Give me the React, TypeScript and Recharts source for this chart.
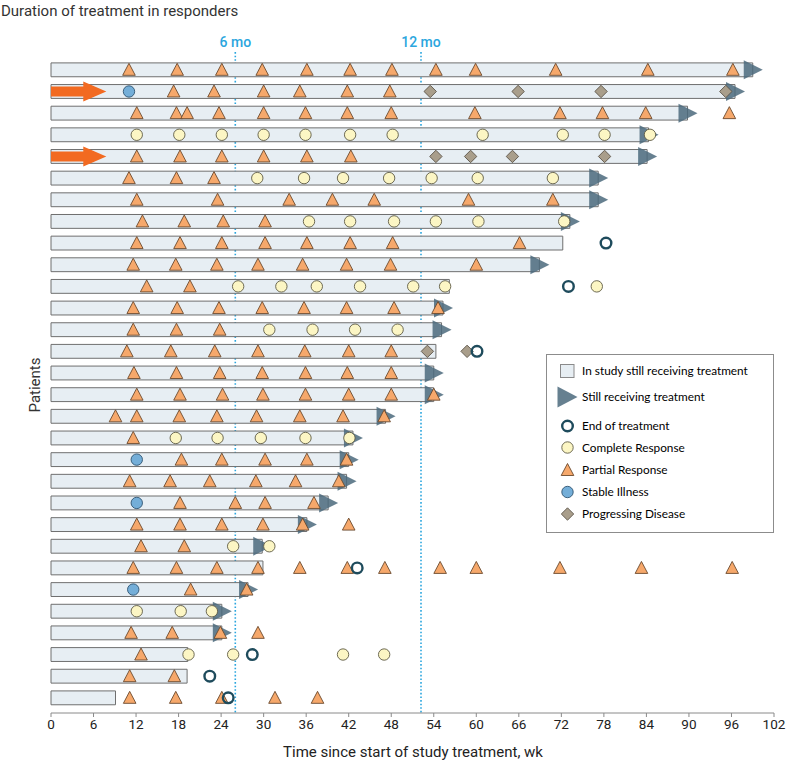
import React from 'react';
import { ComposedChart, XAxis, YAxis, Scatter, ReferenceArea, ReferenceLine } from 'recharts';

const weekTicks = [0, 6, 12, 18, 24, 30, 36, 42, 48, 54, 60, 66, 72, 78, 84, 90, 96, 102];

const patients = [1, 2, 3, 4, 5, 6, 7, 8, 9, 10, 11, 12, 13, 14, 15, 16, 17, 18, 19, 20, 21, 22, 23, 24, 25, 26, 27, 28, 29, 30];
const durations = [99.0, 96.5, 89.8, 84.3, 84.1, 77.2, 77.2, 73.2, 72.2, 68.9, 56.2, 55.3, 55.1, 54.3, 54.0, 54.0, 47.2, 42.6, 42.0, 41.7, 39.1, 36.1, 29.8, 29.9, 27.8, 24.1, 24.1, 19.3, 19.2, 9.1];
const stillReceiving = [true, true, true, true, true, true, true, true, false, true, false, true, true, false, true, true, true, true, true, true, true, true, true, false, true, true, true, false, false, false];

// [patient row, week]
const partialResponse: [number, number][] = [
  [1, 11.0], [1, 17.8], [1, 24.1], [1, 29.8], [1, 36.1], [1, 42.2], [1, 48.1], [1, 54.3], [1, 59.9], [1, 71.2], [1, 84.2], [1, 96.2],
  [2, 17.3], [2, 23.0], [2, 30.0], [2, 35.1], [2, 41.8], [2, 47.8],
  [3, 12.1], [3, 17.7], [3, 19.2], [3, 23.7], [3, 30.0], [3, 35.9], [3, 41.8], [3, 48.0], [3, 59.8], [3, 71.8], [3, 77.8], [3, 83.9], [3, 95.7],
  [5, 12.1], [5, 18.2], [5, 24.1], [5, 30.0], [5, 36.1], [5, 42.3],
  [6, 11.0], [6, 17.7], [6, 23.0],
  [7, 12.1], [7, 23.5], [7, 33.6], [7, 39.7], [7, 45.6], [7, 58.9], [7, 70.8],
  [8, 12.9], [8, 18.8], [8, 24.3], [8, 30.2],
  [9, 12.1], [9, 18.2], [9, 24.1], [9, 30.2], [9, 36.1], [9, 42.2], [9, 48.2], [9, 66.1],
  [10, 11.6], [10, 17.6], [10, 23.4], [10, 29.2], [10, 35.5], [10, 41.7], [10, 47.9], [10, 60.0],
  [11, 13.5], [11, 19.6],
  [12, 11.6], [12, 17.8], [12, 23.7], [12, 29.8], [12, 35.7], [12, 41.7], [12, 48.4], [12, 54.6],
  [13, 11.6], [13, 17.7], [13, 23.8],
  [14, 10.7], [14, 16.9], [14, 23.1], [14, 29.2], [14, 35.8], [14, 42.0], [14, 48.0],
  [15, 11.7], [15, 17.7], [15, 23.8], [15, 29.8], [15, 35.9], [15, 41.8], [15, 48.0],
  [16, 12.1], [16, 18.2], [16, 24.2], [16, 29.9], [16, 35.9], [16, 42.0], [16, 48.0], [16, 54.0],
  [17, 9.1], [17, 12.1], [17, 18.1], [17, 23.4], [17, 29.0], [17, 35.1], [17, 41.2], [17, 47.0],
  [18, 11.6],
  [19, 18.4], [19, 24.1], [19, 30.2], [19, 36.1], [19, 41.7],
  [20, 11.1], [20, 16.8], [20, 22.4], [20, 28.9], [20, 34.5], [20, 40.6],
  [21, 18.2], [21, 26.0], [21, 30.2], [21, 37.1],
  [22, 12.1], [22, 18.2], [22, 24.1], [22, 29.9], [22, 35.5], [22, 42.0],
  [23, 12.7], [23, 18.8],
  [24, 11.6], [24, 17.7], [24, 23.4], [24, 29.2], [24, 35.1], [24, 41.8], [24, 47.1], [24, 54.9], [24, 60.0], [24, 71.8], [24, 83.3], [24, 96.1],
  [25, 19.7], [25, 27.6],
  [27, 11.3], [27, 17.1], [27, 23.9], [27, 29.2],
  [28, 12.7],
  [29, 11.1], [29, 17.4],
  [30, 11.1], [30, 17.6], [30, 24.1], [30, 31.6], [30, 37.6],
];

const completeResponse: [number, number][] = [
  [4, 12.1], [4, 18.1], [4, 24.1], [4, 30.0], [4, 35.9], [4, 42.2], [4, 48.2], [4, 60.9], [4, 72.2], [4, 78.1], [4, 84.5],
  [6, 29.1], [6, 35.7], [6, 41.2], [6, 47.7], [6, 53.7], [6, 60.2], [6, 70.8],
  [8, 36.4], [8, 42.2], [8, 48.4], [8, 54.3], [8, 60.3], [8, 72.4],
  [11, 26.4], [11, 32.5], [11, 37.5], [11, 43.6], [11, 51.1], [11, 55.6], [11, 77.0],
  [13, 30.8], [13, 36.9], [13, 42.9], [13, 48.9],
  [18, 17.6], [18, 23.5], [18, 29.6], [18, 35.9], [18, 42.1],
  [23, 25.7], [23, 30.8],
  [26, 12.1], [26, 18.3], [26, 22.7],
  [28, 19.4], [28, 25.7], [28, 41.2], [28, 47.0],
];

const stableIllness: [number, number][] = [[2, 11.0], [19, 12.1], [21, 12.1], [25, 11.6]];

const progressingDisease: [number, number][] = [
  [2, 53.5], [2, 65.9], [2, 77.6], [2, 95.2],
  [5, 54.3], [5, 59.2], [5, 65.1], [5, 78.1],
  [14, 53.1], [14, 58.7],
];

const endOfTreatment: [number, number][] = [[9, 78.3], [11, 73.0], [14, 60.1], [24, 43.2], [28, 28.4], [29, 22.4], [30, 25.0]];

const highlighted: [number, number][] = [[2, 7.8], [5, 7.8]];

const milestoneWeeks = [26, 52.2];
const milestoneLabels = ['6 mo', '12 mo'];

const toPts = (arr: [number, number][]) => arr.map(([row, wk]) => ({ row, wk }));
const arrowPts = patients.filter((_, i) => stillReceiving[i]).map((p) => ({ row: p, wk: durations[p - 1] }));

const C = {
  bar: '#e7eef3',
  barStroke: '#6f6f6f',
  pr: '#f6a86b',
  prStroke: '#6b4a2e',
  cr: '#fcf6c4',
  crStroke: '#5f5b45',
  sd: '#74aed8',
  sdStroke: '#2f5470',
  pd: '#a99e8b',
  pdStroke: '#5b5448',
  eot: '#1e4b5c',
  arrow: '#4b6a7c',
  mile: '#2ba6de',
  pointer: '#f26a21',
};

const Tri = ({ cx, cy }: any) => (
  <path d={`M${cx},${cy - 6.5} L${cx + 6.3},${cy + 5.5} L${cx - 6.3},${cy + 5.5} Z`} fill={C.pr} stroke={C.prStroke} strokeWidth={0.9} />
);
const CRDot = ({ cx, cy }: any) => <circle cx={cx} cy={cy} r={5.7} fill={C.cr} stroke={C.crStroke} strokeWidth={0.9} />;
const SDDot = ({ cx, cy }: any) => <circle cx={cx} cy={cy} r={5.7} fill={C.sd} stroke={C.sdStroke} strokeWidth={0.9} />;
const Diamond = ({ cx, cy }: any) => (
  <path d={`M${cx},${cy - 6.2} L${cx + 6.2},${cy} L${cx},${cy + 6.2} L${cx - 6.2},${cy} Z`} fill={C.pd} stroke={C.pdStroke} strokeWidth={0.9} />
);
const EOT = ({ cx, cy }: any) => <circle cx={cx} cy={cy} r={5.3} fill="none" stroke={C.eot} strokeWidth={2.4} />;
const Arrow = ({ cx, cy }: any) => (
  <path d={`M${cx - 9},${cy - 9.5} L${cx + 10},${cy} L${cx - 9},${cy + 9.5} Z`} fill={C.arrow} fillOpacity={0.85} />
);
const Pointer = ({ cx, cy }: any) => (
  <path
    d={`M${cx - 71},${cy - 5} L${cx - 23},${cy - 5} L${cx - 23},${cy - 10} L${cx},${cy} L${cx - 23},${cy + 10} L${cx - 23},${cy + 5} L${cx - 71},${cy + 5} Z`}
    fill={C.pointer}
  />
);

const FONT = 'Roboto, "Noto Sans", sans-serif';
const LFONT = 'Lato, "Open Sans", sans-serif';

const legendItems = [
  { label: 'In study still receiving treatment', kind: 'bar', y: 371 },
  { label: 'Still receiving treatment', kind: 'arrow', y: 397 },
  { label: 'End of treatment', kind: 'eot', y: 426 },
  { label: 'Complete Response', kind: 'cr', y: 447.5 },
  { label: 'Partial Response', kind: 'pr', y: 470 },
  { label: 'Stable Illness', kind: 'sd', y: 492 },
  { label: 'Progressing Disease', kind: 'pd', y: 514 },
];

const LegendIcon = ({ kind, cx, cy }: any) => {
  switch (kind) {
    case 'bar':
      return <rect x={cx - 7} y={cy - 6.5} width={13.5} height={13} fill={C.bar} stroke="#8a8a8a" strokeWidth={1} />;
    case 'arrow':
      return <path d={`M${cx - 10},${cy - 10.5} L${cx + 10},${cy} L${cx - 10},${cy + 10.5} Z`} fill={C.arrow} fillOpacity={0.85} />;
    case 'eot':
      return <EOT cx={cx} cy={cy} />;
    case 'cr':
      return <CRDot cx={cx} cy={cy} />;
    case 'pr':
      return <Tri cx={cx} cy={cy} />;
    case 'sd':
      return <SDDot cx={cx} cy={cy} />;
    default:
      return <Diamond cx={cx} cy={cy} />;
  }
};

export default function App() {
  return (
    <div style={{ position: 'absolute', left: 0, top: 0, width: 789, height: 765, background: '#fff', overflow: 'hidden' }}>
      <div style={{ position: 'absolute', left: 0, top: 0 }}>
        <ComposedChart width={789} height={765} margin={{ top: 59, right: 15, bottom: 22, left: 51 }}>
          <XAxis
            type="number"
            dataKey="wk"
            domain={[0, 102]}
            ticks={weekTicks}
            interval={0}
            allowDataOverflow
            height={30}
            tickSize={4}
            axisLine={{ stroke: '#8a8a8a' }}
            tickLine={{ stroke: '#8a8a8a' }}
            tick={{ fill: '#222', fontSize: 13.5, fontFamily: FONT }}
          />
          <YAxis
            type="number"
            dataKey="row"
            domain={[0.5, 30.7]}
            reversed
            allowDataOverflow
            width={0}
            tick={false}
            tickLine={false}
            axisLine={{ stroke: '#8a8a8a' }}
          />
          {milestoneWeeks.map((w, i) => (
            <ReferenceLine
              key={w}
              segment={[{ x: w, y: 0.18 }, { x: w, y: 30.7 }]}
              ifOverflow="visible"
              stroke={C.mile}
              strokeWidth={1.6}
              strokeDasharray="1.6 2"
              zIndex={50}
              label={{ value: milestoneLabels[i], position: 'top', fill: C.mile, fontSize: 14, fontFamily: FONT, fontWeight: 500, offset: 5 }}
            />
          ))}
          {patients.map((p, i) => (
            <ReferenceArea
              key={p}
              x1={0}
              x2={durations[i]}
              y1={p - 0.32}
              y2={p + 0.32}
              fill={C.bar}
              fillOpacity={1}
              stroke={C.barStroke}
              strokeWidth={1}
              zIndex={100}
            />
          ))}
          <Scatter data={arrowPts} isAnimationActive={false} shape={(pp: any) => <Arrow cx={pp.cx} cy={pp.cy} />} />
          <Scatter data={toPts(partialResponse)} isAnimationActive={false} shape={(pp: any) => <Tri cx={pp.cx} cy={pp.cy} />} />
          <Scatter data={toPts(completeResponse)} isAnimationActive={false} shape={(pp: any) => <CRDot cx={pp.cx} cy={pp.cy} />} />
          <Scatter data={toPts(stableIllness)} isAnimationActive={false} shape={(pp: any) => <SDDot cx={pp.cx} cy={pp.cy} />} />
          <Scatter data={toPts(progressingDisease)} isAnimationActive={false} shape={(pp: any) => <Diamond cx={pp.cx} cy={pp.cy} />} />
          <Scatter data={toPts(endOfTreatment)} isAnimationActive={false} shape={(pp: any) => <EOT cx={pp.cx} cy={pp.cy} />} />
          <Scatter data={toPts(highlighted)} isAnimationActive={false} shape={(pp: any) => <Pointer cx={pp.cx} cy={pp.cy} />} />
        </ComposedChart>
      </div>
      <svg width={789} height={765} style={{ position: 'absolute', left: 0, top: 0, pointerEvents: 'none' }}>
        <text x={1} y={16} fontSize={15} fontFamily={FONT} fill="#333">Duration of treatment in responders</text>
        <text x={40} y={385} fontSize={15} fontFamily={FONT} fill="#333" textAnchor="middle" transform="rotate(-90 40 385)">Patients</text>
        <text x={413} y={757} fontSize={15} fontFamily={FONT} fill="#222" textAnchor="middle">Time since start of study treatment, wk</text>
        <rect x={546.5} y={354.5} width={227} height={178} fill="#fff" stroke="#8c8c8c" strokeWidth={1} />
        {legendItems.map((it) => (
          <g key={it.label}>
            <LegendIcon kind={it.kind} cx={567.5} cy={it.y} />
            <text x={582} y={it.y} dy="0.35em" fontSize={11.8} fontFamily={LFONT} fill="#000">{it.label}</text>
          </g>
        ))}
      </svg>
    </div>
  );
}
